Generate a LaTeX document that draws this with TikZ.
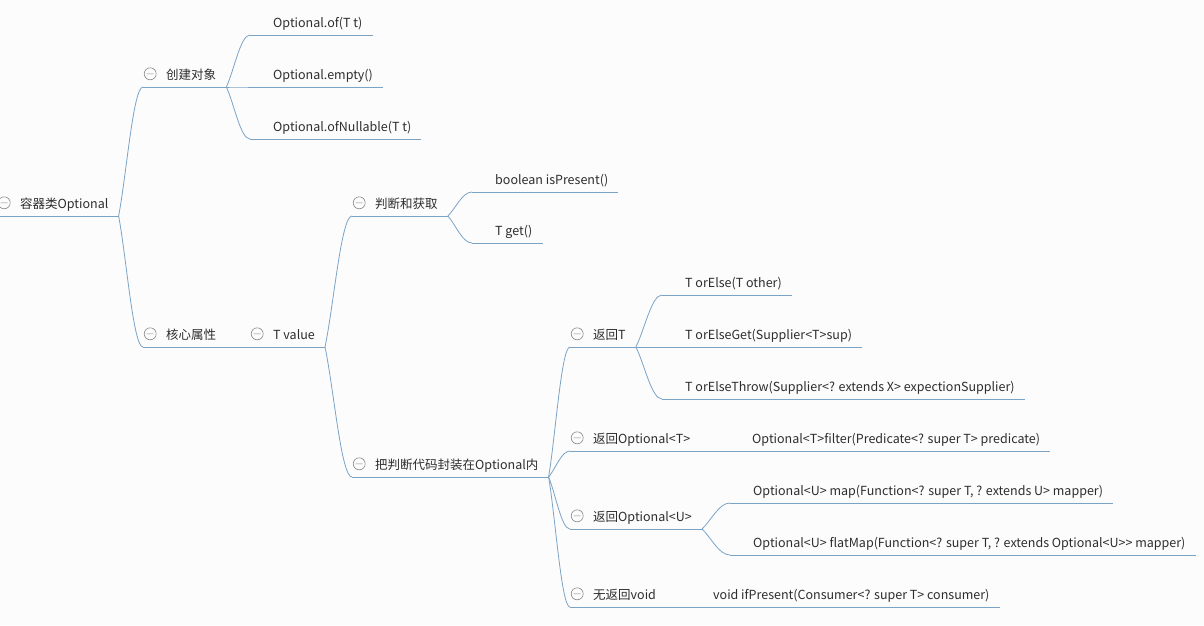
\documentclass[tikz,border=0pt]{standalone}
\usepackage{fontspec}
\newfontfamily\cjk{Noto Sans CJK SC}
\usetikzlibrary{calc}
\definecolor{linkblue}{RGB}{122,163,198}
\definecolor{inkgray}{RGB}{45,45,45}
\definecolor{foldgray}{RGB}{135,135,135}
\definecolor{paper}{RGB}{252,252,253}
\begin{document}
\begin{tikzpicture}[x=1pt, y=-1pt, font=\cjk\fontsize{12.5}{14}\selectfont, text=inkgray]
    % Define styles
    \tikzset{
        link/.style={draw=linkblue, line width=0.8pt},
        branch/.style={link, to path={.. controls ($(\tikztostart)!0.33!(\tikztotarget)$) and ($(\tikztotarget)!0.4!(\tikztotarget -| \tikztostart)$) .. (\tikztotarget)}},
        topic/.style={anchor=south west, inner xsep=0pt, inner ysep=4.5pt, text depth=3pt,
            execute at begin node=\hspace*{23pt}, execute at end node=\hspace*{10pt},
            append after command={(\tikzlastnode.south west) edge[link] (\tikzlastnode.south east)}},
        parent/.style={topic, path picture={
            \draw[foldgray, line width=0.6pt] ([shift={(7,-13)}]path picture bounding box.south west) circle[radius=6]
                ++(-3.5,0) -- ++(7,0);}},
    }

    % Background
    \fill[paper] (0,0) rectangle (1204,625);
    \useasboundingbox (0,0) rectangle (1204,625);

    % Root
    \node[parent] (root) at (-3,216) {容器类Optional};

    % Creating
    \node[parent] (create) at (143,87) {创建对象};
    \node[topic] (of) at (250,35) {Optional.of(T t)};
    \node[topic] (empty) at (250,87) {Optional.empty()};
    \node[topic] (nullable) at (250,139) {Optional.ofNullable(T t)};

    % Core attribute
    \node[parent] (core) at (143,347) {核心属性};
    \node[parent] (tval) at (250,347) {T value};

    \node[parent] (judge) at (352,216) {判断和获取};
    \node[topic] (present) at (472,192) {boolean isPresent()};
    \node[topic] (get) at (472,243) {T get()};

    \node[parent] (wrap) at (352,477) {把判断代码封装在Optional内};

    \node[parent] (rett) at (570,347) {返回T};
    \node[topic] (orelse) at (662,295) {T orElse(T other)};
    \node[topic] (orelseget) at (662,347) {T orElseGet(Supplier<T>sup)};
    \node[topic] (orelsethrow) at (662,399) {T orElseThrow(Supplier<? extends X> expectionSupplier)};

    \node[parent] (retot) at (570,451) {返回Optional<T>};
    \node[topic] (filter) at (729,451) {Optional<T>filter(Predicate<? super T> predicate)};

    \node[parent] (retou) at (570,529) {返回Optional<U>};
    \node[topic] (map) at (730,503) {Optional<U> map(Function<? super T, ? extends U> mapper)};
    \node[topic] (flatmap) at (730,555) {Optional<U> flatMap(Function<? super T, ? extends Optional<U>> mapper)};

    \node[parent] (retv) at (570,607) {无返回void};
    \node[topic] (ifpresent) at (690,607) {void ifPresent(Consumer<? super T> consumer)};

    % Branches
    \draw[branch] (root.south east) to (create.south west);
    \draw[branch] (root.south east) to (core.south west);
    \draw[branch] (create.south east) to (of.south west);
    \draw[branch] (create.south east) to (empty.south west);
    \draw[branch] (create.south east) to (nullable.south west);
    \draw[branch] (core.south east) to (tval.south west);
    \draw[branch] (tval.south east) to (judge.south west);
    \draw[branch] (tval.south east) to (wrap.south west);
    \draw[branch] (judge.south east) to (present.south west);
    \draw[branch] (judge.south east) to (get.south west);
    \draw[branch] (wrap.south east) to (rett.south west);
    \draw[branch] (wrap.south east) to (retot.south west);
    \draw[branch] (wrap.south east) to (retou.south west);
    \draw[branch] (wrap.south east) to (retv.south west);
    \draw[branch] (rett.south east) to (orelse.south west);
    \draw[branch] (rett.south east) to (orelseget.south west);
    \draw[branch] (rett.south east) to (orelsethrow.south west);
    \draw[branch] (retot.south east) to (filter.south west);
    \draw[branch] (retou.south east) to (map.south west);
    \draw[branch] (retou.south east) to (flatmap.south west);
    \draw[branch] (retv.south east) to (ifpresent.south west);
\end{tikzpicture}
\end{document}
